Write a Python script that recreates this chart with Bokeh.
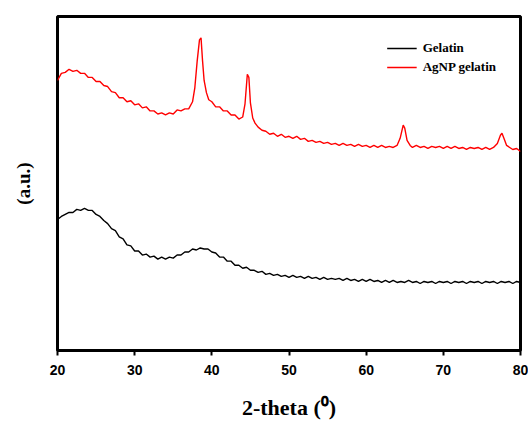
from bokeh.plotting import figure
from bokeh.models import Range1d, FixedTicker, Legend, LegendItem
from bokeh.embed import file_html
from bokeh.resources import INLINE

# ---- data (2-theta in degrees, intensity in arbitrary units) ----
agnp_x = [20.0, 20.5, 21.0, 21.5, 22.0, 22.5, 23.0, 23.5, 24.0, 24.5, 25.0, 25.5, 26.0, 26.5,
          27.0, 27.5, 28.0, 28.5, 29.0, 29.5, 30.0, 30.5, 31.0, 31.5, 32.0, 32.5, 33.0, 33.5,
          34.0, 34.5, 35.0, 35.5, 36.0, 36.5, 37.0, 37.5, 37.8, 38.1, 38.4, 38.6, 38.8, 39.0,
          39.3, 39.6, 40.0, 40.5, 41.0, 41.5, 42.0, 42.5, 43.0, 43.5, 44.0, 44.3, 44.6, 44.8,
          45.0, 45.3, 45.6, 46.0, 46.5, 47.0, 47.5, 48.0, 48.5, 49.0, 49.5, 50.0, 50.5, 51.0,
          51.5, 52.0, 52.5, 53.0, 53.5, 54.0, 54.5, 55.0, 55.5, 56.0, 56.5, 57.0, 57.5, 58.0,
          58.5, 59.0, 59.5, 60.0, 60.5, 61.0, 61.5, 62.0, 62.5, 63.0, 63.5, 64.0, 64.4, 64.8,
          65.0, 65.3, 65.7, 66.0, 66.5, 67.0, 67.5, 68.0, 68.5, 69.0, 69.5, 70.0, 70.5, 71.0,
          71.5, 72.0, 72.5, 73.0, 73.5, 74.0, 74.5, 75.0, 75.5, 76.0, 76.5, 77.0, 77.4, 77.6,
          77.9, 78.2, 78.6, 79.0, 79.5, 80.0]
agnp_y = [273, 280, 281, 284, 282, 283, 280, 280, 276, 276, 272, 272, 268, 267,
          262, 261, 256, 256, 252, 253, 249, 250, 246, 247, 243, 243, 240, 241,
          239, 241, 240, 244, 243, 245, 245, 252, 266, 292, 313, 315, 292, 273,
          261, 254, 252, 247, 247, 243, 243, 239, 239, 235, 237, 250, 279, 276,
          251, 236, 231, 227, 224, 223, 220, 221, 218, 220, 217, 218, 216, 218,
          215, 216, 213, 214, 212, 213, 211, 212, 210, 211, 209, 211, 209, 210,
          208, 210, 208, 209, 207, 209, 207, 209, 207, 208, 207, 209, 216, 229,
          226, 214, 209, 207, 209, 207, 208, 206, 208, 207, 208, 206, 208, 206,
          208, 206, 207, 205, 207, 206, 207, 205, 207, 205, 207, 211, 219, 221,
          215, 209, 207, 205, 206, 203]

gelatin_x = [20.0, 20.5, 21.0, 21.5, 22.0, 22.5, 23.0, 23.5, 24.0, 24.5, 25.0, 25.5, 26.0, 26.5,
             27.0, 27.5, 28.0, 28.5, 29.0, 29.5, 30.0, 30.5, 31.0, 31.5, 32.0, 32.5, 33.0, 33.5,
             34.0, 34.5, 35.0, 35.5, 36.0, 36.5, 37.0, 37.5, 38.0, 38.5, 39.0, 39.5, 40.0, 40.5,
             41.0, 41.5, 42.0, 42.5, 43.0, 43.5, 44.0, 44.5, 45.0, 45.5, 46.0, 46.5, 47.0, 47.5,
             48.0, 48.5, 49.0, 49.5, 50.0, 50.5, 51.0, 51.5, 52.0, 52.5, 53.0, 53.5, 54.0, 54.5,
             55.0, 55.5, 56.0, 56.5, 57.0, 57.5, 58.0, 58.5, 59.0, 59.5, 60.0, 60.5, 61.0, 61.5,
             62.0, 62.5, 63.0, 63.5, 64.0, 64.5, 65.0, 65.5, 66.0, 66.5, 67.0, 67.5, 68.0, 68.5,
             69.0, 69.5, 70.0, 70.5, 71.0, 71.5, 72.0, 72.5, 73.0, 73.5, 74.0, 74.5, 75.0, 75.5,
             76.0, 76.5, 77.0, 77.5, 78.0, 78.5, 79.0, 79.5, 80.0]
gelatin_y = [136, 139, 141, 143, 143, 146, 145, 147, 145, 145, 141, 139, 135, 132,
             127, 125, 119, 117, 111, 110, 105, 105, 101, 102, 99, 100, 97, 99,
             97, 99, 98, 101, 101, 104, 104, 107, 106, 108, 107, 107, 104, 103,
             99, 99, 95, 95, 91, 91, 88, 89, 86, 86, 84, 85, 82, 83,
             81, 82, 80, 81, 79, 81, 79, 80, 78, 80, 78, 79, 77, 79,
             77, 78, 77, 78, 76, 78, 76, 77, 75, 77, 75, 77, 75, 76,
             74, 76, 74, 76, 74, 75, 74, 76, 74, 75, 73, 75, 74, 75,
             73, 75, 74, 75, 73, 75, 74, 75, 73, 75, 74, 75, 73, 75,
             74, 75, 73, 75, 74, 75, 73, 75, 74]

x_ticks = [20, 30, 40, 50, 60, 70, 80]
series_labels = ["Gelatin", "AgNP gelatin"]
x_title = "2-theta (\u2070)"
y_title = "(a.u.)"

p = figure(width=528, height=424, output_backend="svg", toolbar_location=None,
           x_range=Range1d(20, 80), y_range=Range1d(7, 336),
           min_border_left=57, min_border_top=16, min_border_right=8, min_border_bottom=74)

r_gel = p.line(gelatin_x, gelatin_y, line_color="black", line_width=1.4)
r_ag = p.line(agnp_x, agnp_y, line_color="#ff0000", line_width=1.4)

p.xgrid.visible = False
p.ygrid.visible = False
p.outline_line_color = "black"
p.outline_line_width = 3
p.outline_line_alpha = 1
p.background_fill_color = "white"
p.border_fill_color = "white"

xa = p.xaxis[0]
xa.ticker = FixedTicker(ticks=x_ticks)
xa.axis_line_color = None
xa.major_tick_line_color = "black"
xa.major_tick_line_width = 2
xa.major_tick_out = 5
xa.major_tick_in = 0
xa.minor_tick_line_color = None
xa.major_label_text_font = "Liberation Sans"
xa.major_label_text_font_style = "bold"
xa.major_label_text_font_size = "14px"
xa.major_label_text_color = "black"
xa.major_label_standoff = 9
xa.axis_label = x_title
xa.axis_label_text_font = "Liberation Serif"
xa.axis_label_text_font_style = "bold"
xa.axis_label_text_font_size = "22px"
xa.axis_label_text_color = "black"
xa.axis_label_standoff = 17

ya = p.yaxis[0]
ya.ticker = FixedTicker(ticks=[])
ya.axis_line_color = None
ya.major_tick_line_color = None
ya.minor_tick_line_color = None
ya.major_tick_out = 0
ya.major_tick_in = 0
ya.major_label_standoff = 0
ya.major_label_text_font_size = "0px"
ya.axis_label = y_title
ya.axis_label_text_font = "Liberation Serif"
ya.axis_label_text_font_style = "bold"
ya.axis_label_text_font_size = "19px"
ya.axis_label_text_color = "black"
ya.axis_label_standoff = 24

legend = Legend(items=[LegendItem(label=series_labels[0], renderers=[r_gel]),
                       LegendItem(label=series_labels[1], renderers=[r_ag])],
                location="top_right")
legend.border_line_color = None
legend.background_fill_alpha = 0
legend.label_text_font = "Liberation Serif"
legend.label_text_font_style = "bold"
legend.label_text_font_size = "13px"
legend.label_text_color = "black"
legend.glyph_width = 30
legend.glyph_height = 14
legend.label_height = 14
legend.label_standoff = 6
legend.spacing = 3
legend.margin = 24
legend.padding = 0
p.add_layout(legend, "center")

open("out.html", "w").write(file_html(p, INLINE))
